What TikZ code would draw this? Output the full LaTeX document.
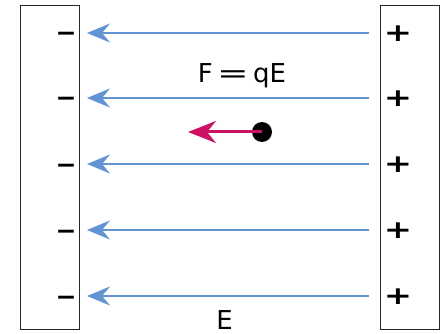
\documentclass[tikz,border=0pt]{standalone}
\usepackage{fontspec}
\setmainfont{DejaVu Sans}
\usetikzlibrary{arrows.meta}
\definecolor{fieldblue}{RGB}{98,148,212}
\definecolor{forcepink}{RGB}{204,16,100}
\begin{document}
\begin{tikzpicture}[x=1pt,y=-1pt,
  plate/.style={draw=black!85, line width=0.9pt, minimum width=59pt, minimum height=324pt, inner sep=0pt},
  fieldline/.style={draw=fieldblue, line width=2.4pt, -{Stealth[length=23pt,width=19pt,inset=8pt]}},
  forcearrow/.style={draw=forcepink, line width=3pt, -{Stealth[length=28pt,width=22pt,inset=9pt]}},
  sign/.style={font=\bfseries\fontsize{25}{25}\selectfont, inner sep=0pt},
  label/.style={font=\fontsize{26}{26}\selectfont, inner sep=0pt, anchor=base}]
\useasboundingbox (0,0) rectangle (447,334);
\node[plate] (negplate) at (49.5,167) {};
\node[plate] (posplate) at (409.5,167) {};
\foreach \y [count=\i] in {33,98,164,230,296} {
  \node[sign, anchor=base] (m\i) at (66,\y+9) {−};
  \node[sign] (p\i) at (398,\y+1) {\scalebox{1.35}[1]{+}};
  \coordinate (s\i) at (369,\y);
  \coordinate (t\i) at (87,\y);
  \draw[fieldline] (s\i) -- (t\i);
}
\node[label] (law) at (242,83) {F\,\scalebox{1.45}[1]{=}\,qE};
\node[label] (field) at (224.5,329) {E};
\node[circle, fill=black, minimum size=20pt, inner sep=0pt] (q) at (262,132) {};
\coordinate (ftip) at (188,132);
\draw[forcearrow] (q.center) -- (ftip);
\end{tikzpicture}
\end{document}
